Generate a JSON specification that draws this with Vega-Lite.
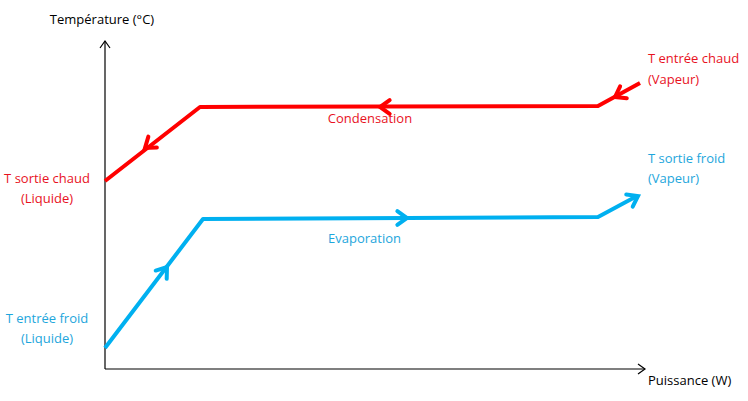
{
  "$schema": "https://vega.github.io/schema/vega-lite/v6.json",
  "width": 540,
  "height": 328,
  "autosize": {"type": "none"},
  "padding": {"left": 105, "top": 41, "right": 103, "bottom": 32},
  "background": "white",
  "config": {"view": {"stroke": null}, "text": {"font": "Open Sans", "fontSize": 13}},
  "datasets": {
    "axes": [
      {"x": 0, "y": 0, "x2": 540, "y2": 0, "serie": "axe"},
      {"x": 0, "y": 0, "x2": 0, "y2": 328, "serie": "axe"}
    ],
    "fleches_axes": [
      {"x": 540, "y": 0, "angle": 0, "serie": "axe"},
      {"x": 0, "y": 328, "angle": 270, "serie": "axe"}
    ],
    "courbes": [
      {"serie": "chaud", "ordre": 1, "x": 535, "y": 286},
      {"serie": "chaud", "ordre": 2, "x": 493, "y": 263},
      {"serie": "chaud", "ordre": 3, "x": 95, "y": 262},
      {"serie": "chaud", "ordre": 4, "x": 0, "y": 188},
      {"serie": "froid", "ordre": 1, "x": 0, "y": 21},
      {"serie": "froid", "ordre": 2, "x": 98, "y": 150},
      {"serie": "froid", "ordre": 3, "x": 493, "y": 152},
      {"serie": "froid", "ordre": 4, "x": 532, "y": 173}
    ],
    "chevrons": [
      {"serie": "chaud", "x": 510, "y": 272, "angle": 151},
      {"serie": "chaud", "x": 275, "y": 262, "angle": 180},
      {"serie": "chaud", "x": 40, "y": 221, "angle": 142},
      {"serie": "froid", "x": 62, "y": 102, "angle": 307},
      {"serie": "froid", "x": 302, "y": 151, "angle": 0},
      {"serie": "froid", "x": 533, "y": 173, "angle": 332}
    ],
    "textes_gauche": [
      {"label": "T entrée chaud", "x": 543, "y": 310, "serie": "chaud texte"},
      {"label": "(Vapeur)", "x": 543, "y": 289, "serie": "chaud texte"},
      {"label": "T sortie froid", "x": 543, "y": 210, "serie": "froid texte"},
      {"label": "(Vapeur)", "x": 543, "y": 190, "serie": "froid texte"},
      {"label": "Evaporation", "x": 223, "y": 130, "serie": "froid texte"},
      {"label": "Puissance (W)", "x": 543, "y": -12, "serie": "axe"}
    ],
    "textes_centre": [
      {"label": "Température (°C)", "x": -3, "y": 349, "serie": "axe"},
      {"label": "Condensation", "x": 265, "y": 250, "serie": "chaud texte"},
      {"label": "T sortie chaud", "x": -58, "y": 190, "serie": "chaud texte"},
      {"label": "(Liquide)", "x": -58, "y": 170, "serie": "chaud texte"},
      {"label": "T entrée froid", "x": -58, "y": 50, "serie": "froid texte"},
      {"label": "(Liquide)", "x": -58, "y": 30, "serie": "froid texte"}
    ]
  },
  "encoding": {
    "x": {"field": "x", "type": "quantitative", "scale": {"domain": [0, 540], "nice": false, "zero": false}, "axis": null},
    "y": {"field": "y", "type": "quantitative", "scale": {"domain": [0, 328], "nice": false, "zero": false}, "axis": null},
    "color": {"field": "serie", "type": "nominal", "legend": null,
      "scale": {"domain": ["chaud", "froid", "axe", "chaud texte", "froid texte"],
                "range": ["#FF0000", "#00B0F0", "#000000", "#E8121E", "#1EA6DC"]}}
  },
  "layer": [
    {
      "data": {"name": "axes"},
      "mark": {"type": "rule", "strokeWidth": 1.2},
      "encoding": {"x2": {"field": "x2"}, "y2": {"field": "y2"}}
    },
    {
      "data": {"name": "fleches_axes"},
      "mark": {"type": "point", "shape": "M-1.4,-1L0,0L-1.4,1", "filled": false, "size": 100, "strokeWidth": 1.2, "opacity": 1},
      "encoding": {"angle": {"field": "angle", "type": "quantitative", "scale": null}}
    },
    {
      "data": {"name": "courbes"},
      "mark": {"type": "line", "strokeWidth": 4, "strokeJoin": "round"},
      "encoding": {"order": {"field": "ordre", "type": "quantitative"}}
    },
    {
      "data": {"name": "chevrons"},
      "mark": {"type": "point", "shape": "M-1.4,-1L0,0L-1.4,1", "filled": false, "size": 190, "strokeWidth": 4, "opacity": 1, "strokeCap": "round"},
      "encoding": {"angle": {"field": "angle", "type": "quantitative", "scale": null}}
    },
    {
      "data": {"name": "textes_gauche"},
      "mark": {"type": "text", "align": "left", "baseline": "middle"},
      "encoding": {"text": {"field": "label"}}
    },
    {
      "data": {"name": "textes_centre"},
      "mark": {"type": "text", "align": "center", "baseline": "middle"},
      "encoding": {"text": {"field": "label"}}
    }
  ]
}
